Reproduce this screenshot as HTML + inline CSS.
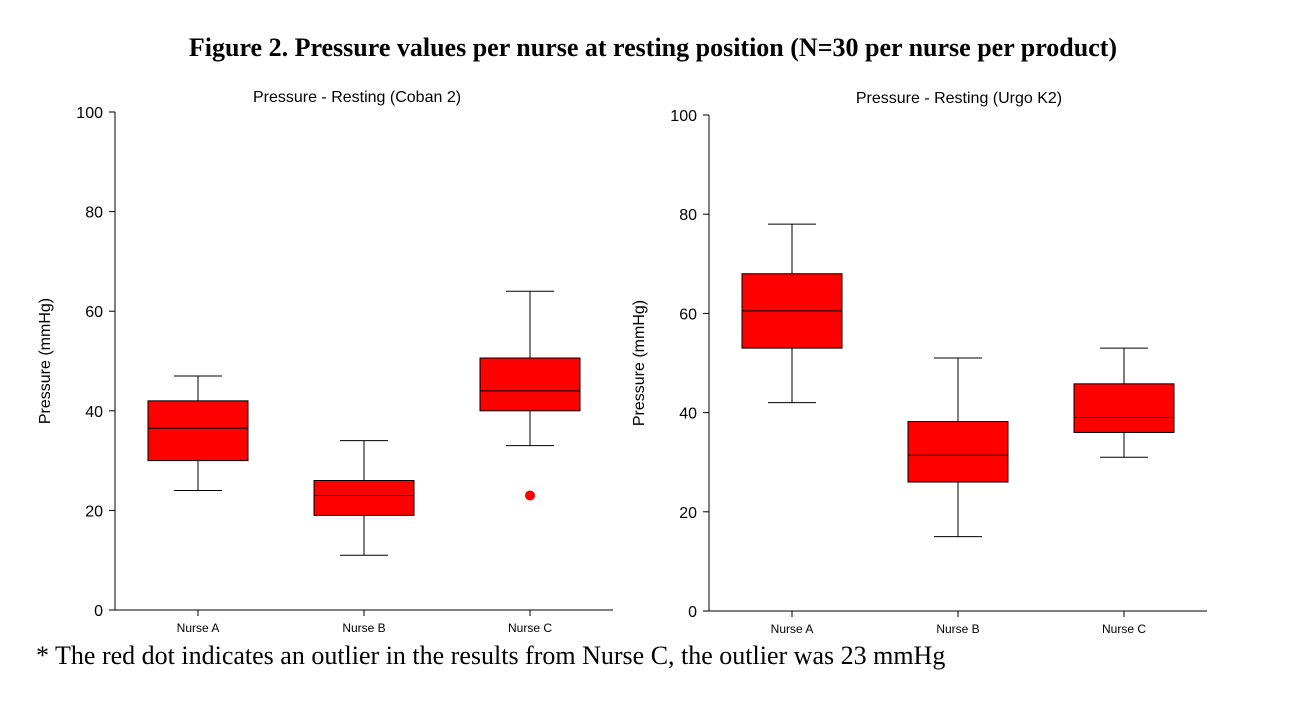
<!DOCTYPE html>
<html><head><meta charset="utf-8"><style>
body{margin:0;background:#fff;width:1294px;height:714px;overflow:hidden}
svg text{font-family:"Liberation Sans",sans-serif}
</style></head><body>
<svg width="1294" height="714" id="svg">
<text x="653" y="56" text-anchor="middle" font-weight="bold" font-size="26" style="font-family:'Liberation Serif',serif">Figure 2. Pressure values per nurse at resting position (N=30 per nurse per product)</text>
<text x="36" y="664" font-size="26" style="font-family:'Liberation Serif',serif">* The red dot indicates an outlier in the results from Nurse C, the outlier was 23 mmHg</text>
</svg>
<script>
const categories=["Nurse A","Nurse B","Nurse C"];
const cobanMin=[24,11,33];
const cobanQ1=[30,19,40];
const cobanMed=[36.5,23,44];
const cobanQ3=[42,26,50.6];
const cobanMax=[47,34,64];
const cobanOutliers=[null,null,23];
const urgoMin=[42,15,31];
const urgoQ1=[53,26,36];
const urgoMed=[60.5,31.4,39];
const urgoQ3=[68,38.2,45.8];
const urgoMax=[78,51,53];
const urgoOutliers=[null,null,null];
const yTicks=[0,20,40,60,80,100];
const svg=document.getElementById('svg');
const NS='http://www.w3.org/2000/svg';
function mk(tag,attrs,parent){const e=document.createElementNS(NS,tag);for(const k in attrs)e.setAttribute(k,attrs[k]);(parent||svg).appendChild(e);return e;}
function chart(cfg){
  const g=mk('g',{});
  
  
  const y=v=>cfg.y0-(v/100)*(cfg.y0-cfg.y100);
  const band=(cfg.x1-cfg.x0)/categories.length;
  const x=i=>cfg.x0+band*(i+0.5);
  const t=mk('text',{x:cfg.titleX,y:cfg.titleY,'text-anchor':'middle','font-size':16},g);t.textContent=cfg.title;
  
  const ax=mk('path',{d:`M${cfg.x0},${y(100)}V${cfg.y0}H${cfg.x1}`,stroke:'#000',fill:'none','stroke-width':1},g);
  
  yTicks.forEach(v=>{
    mk('line',{x1:cfg.x0-6,x2:cfg.x0,y1:y(v),y2:y(v),stroke:'#000'},g);
    const l=mk('text',{x:cfg.x0-12,y:y(v)+6,'text-anchor':'end','font-size':16},g);l.textContent=v;
    
  });
  const yl=mk('text',{transform:`translate(${cfg.x0-65},${y(50)}) rotate(-90)`,'text-anchor':'middle','font-size':16},g);yl.textContent='Pressure (mmHg)';
  
  categories.forEach((c,i)=>{
    const cx=x(i);
    mk('line',{x1:cx,x2:cx,y1:cfg.y0,y2:cfg.y0+6,stroke:'#000'},g);
    const l=mk('text',{x:cx,y:cfg.y0+22,'text-anchor':'middle','font-size':12},g);l.textContent=c;
    
    const bg=mk('g',{},g);
    
    
    mk('line',{x1:cx,x2:cx,y1:y(cfg.max[i]),y2:y(cfg.q3[i]),stroke:'#000'},bg);
    mk('line',{x1:cx,x2:cx,y1:y(cfg.q1[i]),y2:y(cfg.min[i]),stroke:'#000'},bg);
    mk('line',{x1:cx-24,x2:cx+24,y1:y(cfg.max[i]),y2:y(cfg.max[i]),stroke:'#000'},bg);
    mk('line',{x1:cx-24,x2:cx+24,y1:y(cfg.min[i]),y2:y(cfg.min[i]),stroke:'#000'},bg);
    mk('rect',{x:cx-50,y:y(cfg.q3[i]),width:100,height:y(cfg.q1[i])-y(cfg.q3[i]),fill:'#ff0000',stroke:'#000'},bg);
    mk('line',{x1:cx-50,x2:cx+50,y1:y(cfg.med[i]),y2:y(cfg.med[i]),stroke:'#000'},bg);
    if(cfg.out[i]!=null){const o=mk('circle',{cx:cx,cy:y(cfg.out[i]),r:5,fill:'#ff0000'},bg);
      }
  });
}
chart({name:'chart-coban',title:'Pressure - Resting (Coban 2)',titleX:357,titleY:102,x0:115,x1:613,y0:610,y100:112,min:cobanMin,q1:cobanQ1,med:cobanMed,q3:cobanQ3,max:cobanMax,out:cobanOutliers});
chart({name:'chart-urgo',title:'Pressure - Resting (Urgo K2)',titleX:959,titleY:103,x0:709,x1:1207,y0:611,y100:115,min:urgoMin,q1:urgoQ1,med:urgoMed,q3:urgoQ3,max:urgoMax,out:urgoOutliers});
</script>
</body></html>
